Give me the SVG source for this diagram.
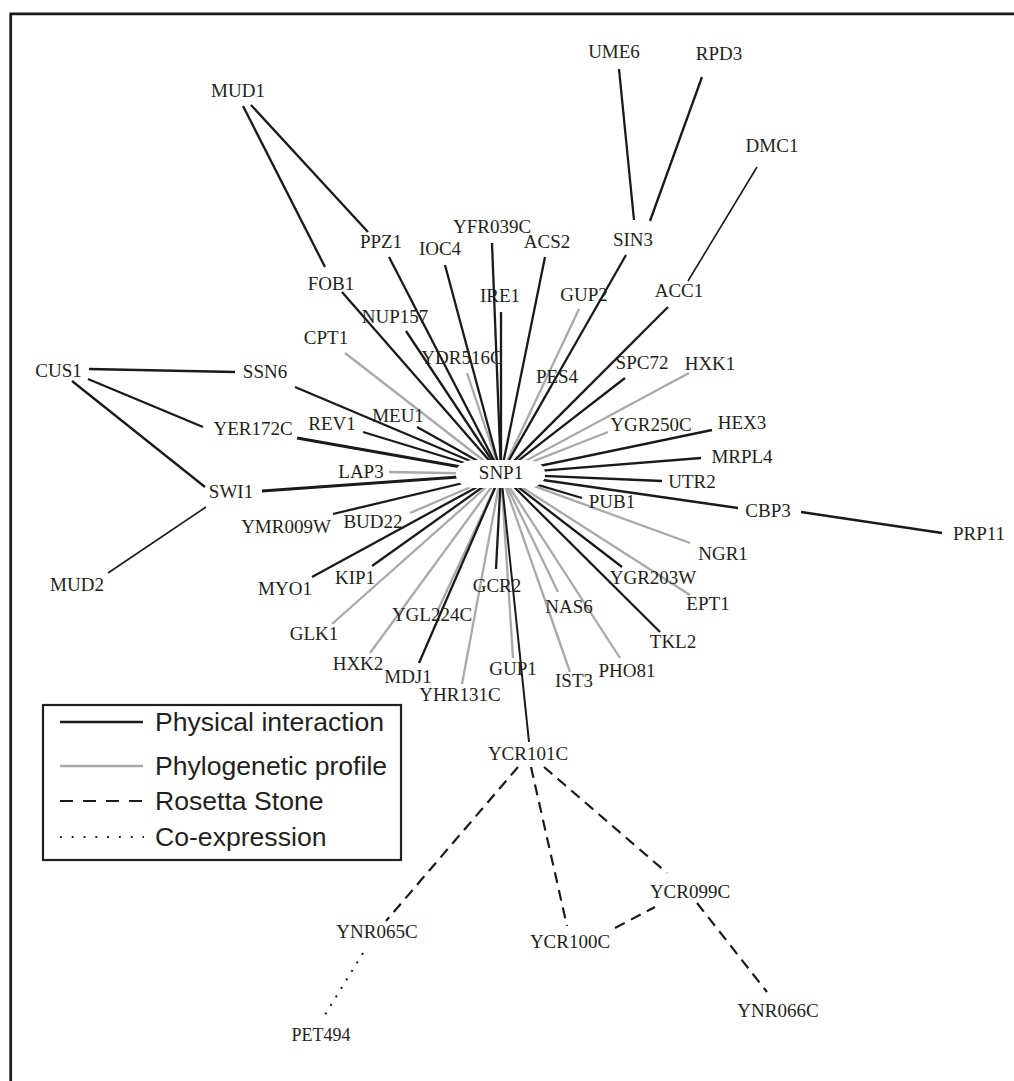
<svg xmlns="http://www.w3.org/2000/svg" width="1014" height="1081" viewBox="0 0 1014 1081">
<style>
.bg{fill:#ffffff}
.frame{fill:none;stroke:#1a1a1a;stroke-width:2.7}
.phys{fill:none;stroke:#1a1a1a;stroke-width:2.3}
.thick{stroke-width:2.8}
.thin{stroke-width:1.6}
.phylo{fill:none;stroke:#a9a9a9;stroke-width:2.3}
.rosetta{fill:none;stroke:#1a1a1a;stroke-width:2.2;stroke-dasharray:11 7}
.coexp{fill:none;stroke:#1a1a1a;stroke-width:2;stroke-dasharray:2 8}
.lbl{font-family:"Liberation Serif","Times New Roman",serif;font-size:19px;fill:#231f20;text-anchor:middle}
.leg{font-family:"Liberation Sans",Arial,sans-serif;font-size:26.6px;fill:#231f20}
.legbox{fill:#ffffff;stroke:#231f20;stroke-width:2.2}
</style>
<rect class="bg" x="0" y="0" width="1014" height="1081"/>
<path class="frame" d="M10.7,1081 V13.8 H1014"/>

<g id="connectors">
  <!-- phylogenetic profile edges to SNP1 -->
  <line class="phylo" x1="345" y1="353" x2="501" y2="474"/>
  <line class="phylo" x1="467" y1="373" x2="501" y2="474"/>
  <line class="phylo" x1="579" y1="309" x2="501" y2="474"/>
  <line class="phylo" x1="550" y1="388" x2="501" y2="474"/>
  <line class="phylo" x1="689" y1="373" x2="501" y2="474"/>
  <line class="phylo" x1="608" y1="432" x2="501" y2="474"/>
  <line class="phylo" x1="690" y1="543" x2="501" y2="474"/>
  <line class="phylo" x1="690" y1="595" x2="501" y2="474"/>
  <line class="phylo" x1="620" y1="658" x2="501" y2="474"/>
  <line class="phylo" x1="570" y1="672" x2="501" y2="474"/>
  <line class="phylo" x1="558" y1="592" x2="501" y2="474"/>
  <line class="phylo" x1="513" y1="658" x2="501" y2="474"/>
  <line class="phylo" x1="462" y1="684" x2="501" y2="474"/>
  <line class="phylo" x1="437" y1="612" x2="501" y2="474"/>
  <line class="phylo" x1="370" y1="653" x2="501" y2="474"/>
  <line class="phylo" x1="332" y1="624" x2="501" y2="474"/>
  <line class="phylo" x1="410" y1="513" x2="501" y2="474"/>
  <line class="phylo thick" x1="389" y1="472" x2="501" y2="474"/>
  <!-- physical interaction edges to SNP1 -->
  <line class="phys" x1="342" y1="292" x2="501" y2="474"/>
  <line class="phys" x1="389" y1="257" x2="501" y2="474"/>
  <line class="phys" x1="445" y1="265" x2="501" y2="474"/>
  <line class="phys" x1="492" y1="243" x2="501" y2="474"/>
  <line class="phys" x1="501" y1="312" x2="501" y2="474"/>
  <line class="phys" x1="545" y1="257" x2="501" y2="474"/>
  <line class="phys" x1="626" y1="255" x2="501" y2="474"/>
  <line class="phys" x1="668" y1="307" x2="501" y2="474"/>
  <line class="phys" x1="625" y1="378" x2="501" y2="474"/>
  <line class="phys" x1="712" y1="430" x2="501" y2="474"/>
  <line class="phys" x1="701" y1="458" x2="501" y2="474"/>
  <line class="phys" x1="662" y1="481" x2="501" y2="474"/>
  <line class="phys" x1="738" y1="508" x2="501" y2="474"/>
  <line class="phys" x1="582" y1="498" x2="501" y2="474"/>
  <line class="phys" x1="622" y1="567" x2="501" y2="474"/>
  <line class="phys" x1="660" y1="632" x2="501" y2="474"/>
  <line class="phys" x1="529" y1="742" x2="501" y2="474" style="stroke-width:2"/>
  <line class="phys" x1="496" y1="569" x2="501" y2="474"/>
  <line class="phys" x1="419" y1="663" x2="501" y2="474"/>
  <line class="phys" x1="372" y1="566" x2="501" y2="474"/>
  <line class="phys" x1="312" y1="577" x2="501" y2="474"/>
  <line class="phys" x1="333" y1="514" x2="501" y2="474"/>
  <line class="phys thick" x1="262" y1="491" x2="501" y2="474"/>
  <line class="phys thick" x1="297" y1="438" x2="501" y2="474"/>
  <line class="phys" x1="363" y1="432" x2="501" y2="474"/>
  <line class="phys" x1="417" y1="427" x2="501" y2="474"/>
  <line class="phys" x1="295" y1="387" x2="501" y2="474"/>
  <line class="phys" x1="406" y1="331" x2="501" y2="474"/>
  <!-- other physical edges -->
  <line class="phys" x1="243" y1="106" x2="325" y2="267"/>
  <line class="phys" x1="251" y1="105" x2="368" y2="232"/>
  <line class="phys" x1="619" y1="69" x2="634" y2="220"/>
  <line class="phys" x1="702" y1="77" x2="650" y2="221"/>
  <line class="phys thin" x1="757" y1="167" x2="688" y2="281"/>
  <line class="phys" x1="89" y1="369" x2="235" y2="372"/>
  <line class="phys" x1="88" y1="379" x2="203" y2="427"/>
  <line class="phys" x1="72" y1="381" x2="205" y2="487"/>
  <line class="phys thin" x1="206" y1="507" x2="108" y2="573"/>
  <line class="phys" x1="801" y1="512" x2="942" y2="533"/>
  <!-- Rosetta Stone edges -->
  <line class="rosetta" x1="518" y1="767" x2="386" y2="921"/>
  <line class="rosetta" x1="531" y1="767" x2="567" y2="926"/>
  <line class="rosetta" x1="544" y1="767" x2="667" y2="873"/>
  <line class="rosetta" x1="615" y1="928" x2="655" y2="907"/>
  <line class="rosetta" x1="697" y1="903" x2="767" y2="992"/>
  <!-- Co-expression edge -->
  <line class="coexp" x1="363" y1="953" x2="323" y2="1018"/>
</g>

<g id="nodes">
  <g id="SNP1"><rect x="456" y="460" width="89" height="28" rx="18" ry="13" fill="#ffffff"/><text class="lbl" x="501" y="479">SNP1</text></g>
  <g id="MUD1"><text class="lbl" x="238" y="97">MUD1</text></g>
  <g id="UME6"><text class="lbl" x="614" y="58">UME6</text></g>
  <g id="RPD3"><text class="lbl" x="719" y="60">RPD3</text></g>
  <g id="DMC1"><text class="lbl" x="772" y="152">DMC1</text></g>
  <g id="YFR039C"><text class="lbl" x="492" y="233">YFR039C</text></g>
  <g id="PPZ1"><text class="lbl" x="381" y="248">PPZ1</text></g>
  <g id="IOC4"><text class="lbl" x="440" y="255">IOC4</text></g>
  <g id="ACS2"><text class="lbl" x="547" y="248">ACS2</text></g>
  <g id="SIN3"><text class="lbl" x="633" y="246">SIN3</text></g>
  <g id="FOB1"><text class="lbl" x="331" y="290">FOB1</text></g>
  <g id="ACC1"><text class="lbl" x="679" y="297">ACC1</text></g>
  <g id="IRE1"><text class="lbl" x="500" y="302">IRE1</text></g>
  <g id="GUP2"><text class="lbl" x="584" y="301">GUP2</text></g>
  <g id="NUP157"><text class="lbl" x="395" y="323">NUP157</text></g>
  <g id="CPT1"><text class="lbl" x="326" y="344">CPT1</text></g>
  <g id="YDR516C"><text class="lbl" x="462" y="364">YDR516C</text></g>
  <g id="PES4"><text class="lbl" x="557" y="383">PES4</text></g>
  <g id="SPC72"><text class="lbl" x="642" y="369">SPC72</text></g>
  <g id="HXK1"><text class="lbl" x="710" y="370">HXK1</text></g>
  <g id="CUS1"><text class="lbl" x="58.5" y="377">CUS1</text></g>
  <g id="SSN6"><text class="lbl" x="265" y="378">SSN6</text></g>
  <g id="MEU1"><text class="lbl" x="398" y="422">MEU1</text></g>
  <g id="REV1"><text class="lbl" x="332" y="430">REV1</text></g>
  <g id="YER172C"><text class="lbl" x="253" y="435">YER172C</text></g>
  <g id="YGR250C"><text class="lbl" x="651" y="431">YGR250C</text></g>
  <g id="HEX3"><text class="lbl" x="742" y="429">HEX3</text></g>
  <g id="MRPL4"><text class="lbl" x="742" y="463">MRPL4</text></g>
  <g id="LAP3"><text class="lbl" x="361" y="478">LAP3</text></g>
  <g id="UTR2"><text class="lbl" x="692" y="488">UTR2</text></g>
  <g id="SWI1"><text class="lbl" x="231" y="498">SWI1</text></g>
  <g id="PUB1"><text class="lbl" x="612" y="508">PUB1</text></g>
  <g id="CBP3"><text class="lbl" x="768" y="517">CBP3</text></g>
  <g id="BUD22"><text class="lbl" x="373" y="528">BUD22</text></g>
  <g id="YMR009W"><text class="lbl" x="286" y="533">YMR009W</text></g>
  <g id="PRP11"><text class="lbl" x="979" y="540">PRP11</text></g>
  <g id="NGR1"><text class="lbl" x="723" y="560">NGR1</text></g>
  <g id="KIP1"><text class="lbl" x="355" y="584">KIP1</text></g>
  <g id="YGR203W"><text class="lbl" x="653" y="584">YGR203W</text></g>
  <g id="MUD2"><text class="lbl" x="77" y="591">MUD2</text></g>
  <g id="GCR2"><text class="lbl" x="497" y="592">GCR2</text></g>
  <g id="MYO1"><text class="lbl" x="285" y="595">MYO1</text></g>
  <g id="EPT1"><text class="lbl" x="708" y="610">EPT1</text></g>
  <g id="NAS6"><text class="lbl" x="569" y="613">NAS6</text></g>
  <g id="YGL224C"><text class="lbl" x="432" y="621">YGL224C</text></g>
  <g id="GLK1"><text class="lbl" x="314" y="640">GLK1</text></g>
  <g id="TKL2"><text class="lbl" x="673" y="648">TKL2</text></g>
  <g id="HXK2"><text class="lbl" x="358" y="670">HXK2</text></g>
  <g id="GUP1"><text class="lbl" x="513" y="675">GUP1</text></g>
  <g id="PHO81"><text class="lbl" x="627" y="677">PHO81</text></g>
  <g id="MDJ1"><text class="lbl" x="408" y="683">MDJ1</text></g>
  <g id="IST3"><text class="lbl" x="574" y="687">IST3</text></g>
  <g id="YHR131C"><text class="lbl" x="460" y="701">YHR131C</text></g>
  <g id="YCR101C"><text class="lbl" x="528" y="760">YCR101C</text></g>
  <g id="YCR099C"><text class="lbl" x="690" y="898">YCR099C</text></g>
  <g id="YNR065C"><text class="lbl" x="377" y="938">YNR065C</text></g>
  <g id="YCR100C"><text class="lbl" x="570" y="948">YCR100C</text></g>
  <g id="YNR066C"><text class="lbl" x="778" y="1017">YNR066C</text></g>
  <g id="PET494"><text class="lbl" x="321" y="1041" style="font-size:18px">PET494</text></g>
</g>

<g id="legend">
  <rect class="legbox" x="43" y="705" width="358" height="155"/>
  <line class="phys" x1="60" y1="722" x2="143" y2="722"/>
  <line class="phylo" x1="60" y1="766" x2="143" y2="766"/>
  <line class="rosetta" x1="60" y1="801" x2="143" y2="801" style="stroke-dasharray:13 10"/>
  <line class="coexp" x1="60" y1="837" x2="144" y2="837" style="stroke-width:1.8;stroke-dasharray:1.8 10"/>
  <text class="leg" x="155" y="731">Physical interaction</text>
  <text class="leg" x="155" y="775">Phylogenetic profile</text>
  <text class="leg" x="155" y="810">Rosetta Stone</text>
  <text class="leg" x="155" y="846">Co-expression</text>
</g>
</svg>
